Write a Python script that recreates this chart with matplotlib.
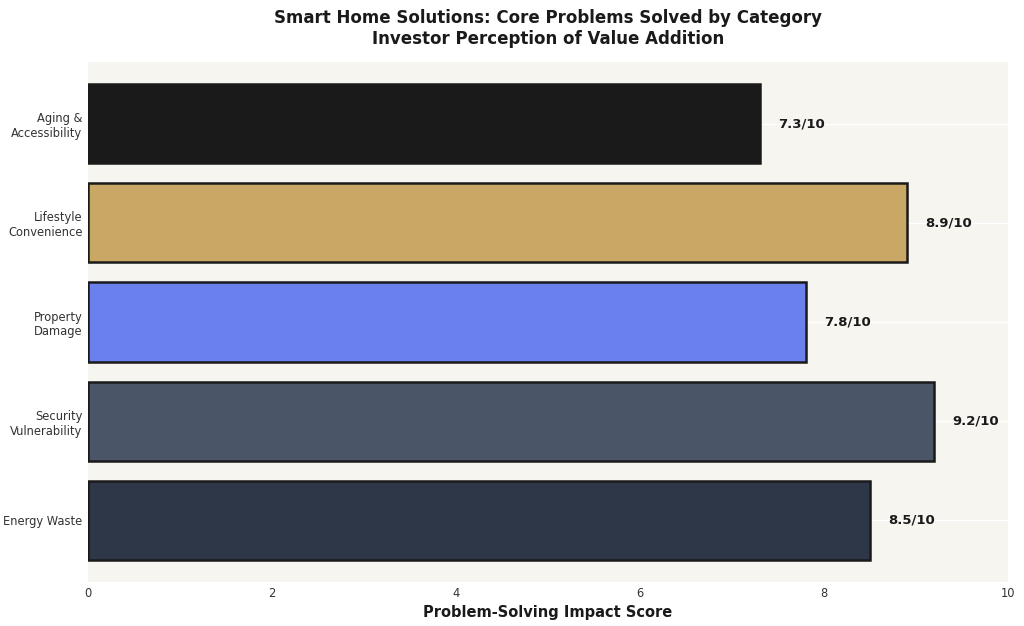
import matplotlib
matplotlib.use("Agg")
import matplotlib.pyplot as plt

categories = ["Energy Waste", "Security\nVulnerability", "Property\nDamage", "Lifestyle\nConvenience", "Aging &\nAccessibility"]
scores = [8.5, 9.2, 7.8, 8.9, 7.3]
colors = ["#2d3748", "#4a5568", "#6a80ec", "#c9a866", "#1a1a1a"]

fig = plt.figure(figsize=(10.24, 6.26), dpi=100)
ax = fig.add_axes([88/1024, 1-582/626, 920/1024, 520/626])
ax.set_facecolor("#f7f5f0")
ax.grid(axis="y", color="white", linewidth=1)
ax.set_axisbelow(True)
y = range(len(categories))
ax.barh(y, scores, height=0.8, color=colors, edgecolor="#1a1a1a", linewidth=1.8)
for i, v in enumerate(scores):
    ax.text(v + 0.2, i, f"{v}/10", va="center", ha="left", fontsize=9.5, fontweight="bold", color="#1a1a1a")
ax.set_yticks(list(y))
ax.set_yticklabels(categories, fontsize=8.3, color="#333333")
ax.set_xlim(0, 10)
ax.set_ylim(-0.62, 4.62)
ax.set_xticks([0, 2, 4, 6, 8, 10])
ax.tick_params(axis="both", length=0, labelsize=8.3, colors="#333333")
ax.tick_params(axis="y", pad=4)
for s in ax.spines.values():
    s.set_visible(False)
ax.set_xlabel("Problem-Solving Impact Score", fontsize=10.5, fontweight="bold", color="#1a1a1a", labelpad=4)
fig.suptitle("Smart Home Solutions: Core Problems Solved by Category\nInvestor Perception of Value Addition",
             fontsize=12, fontweight="bold", color="#1a1a1a", y=0.985, x=548/1024)
fig.savefig("out.png", dpi=100, facecolor="white")
